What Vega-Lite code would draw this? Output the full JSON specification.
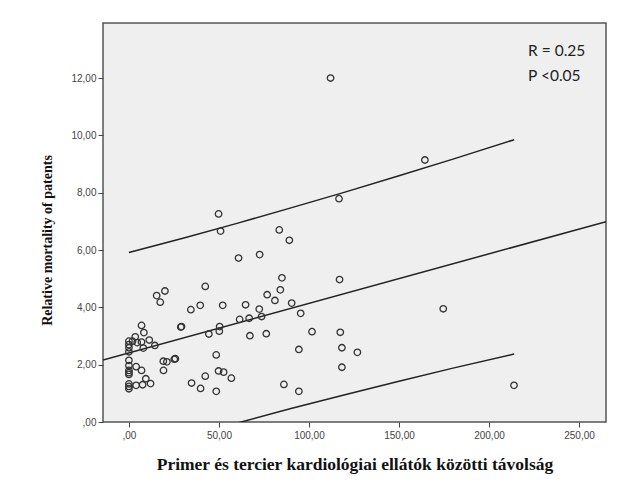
{
  "$schema": "https://vega.github.io/schema/vega-lite/v6.json",
  "width": 503,
  "height": 399,
  "autosize": {"type": "none"},
  "padding": {"left": 103, "top": 23, "right": 34, "bottom": 71},
  "background": "white",
  "config": {
    "view": {"fill": "#efefef", "stroke": "#555555", "strokeWidth": 1.5},
    "axis": {
      "labelFont": "Liberation Sans",
      "labelFontSize": 10,
      "labelColor": "#444444",
      "tickColor": "#444444",
      "tickSize": 5,
      "tickWidth": 1,
      "domain": false,
      "grid": false,
      "titleFont": "Liberation Serif",
      "titleFontWeight": "bold",
      "titleColor": "#111111"
    }
  },
  "datasets": {
    "pts": [
      {"d": 0, "m": 2.82}, {"d": 0, "m": 2.70}, {"d": 0, "m": 2.59}, {"d": 0, "m": 2.45}, {"d": 0, "m": 2.15}, {"d": 0, "m": 1.97},
      {"d": 0, "m": 1.80}, {"d": 0, "m": 1.72}, {"d": 0, "m": 1.66}, {"d": 0, "m": 1.33}, {"d": 0, "m": 1.24}, {"d": 0, "m": 1.16},
      {"d": 2, "m": 2.82}, {"d": 3.5, "m": 2.97}, {"d": 4.6, "m": 2.77}, {"d": 7, "m": 2.79}, {"d": 7, "m": 3.37}, {"d": 8.3, "m": 3.12},
      {"d": 8, "m": 2.58}, {"d": 11.3, "m": 2.86}, {"d": 14.4, "m": 2.67},
      {"d": 4, "m": 1.93}, {"d": 7, "m": 1.80}, {"d": 9.4, "m": 1.51}, {"d": 12, "m": 1.34}, {"d": 4, "m": 1.28}, {"d": 7.6, "m": 1.30},
      {"d": 15.4, "m": 4.41}, {"d": 17.4, "m": 4.18}, {"d": 20, "m": 4.57},
      {"d": 19.1, "m": 2.12}, {"d": 21.1, "m": 2.10}, {"d": 25.2, "m": 2.19}, {"d": 25.8, "m": 2.21}, {"d": 19.2, "m": 1.80},
      {"d": 28.8, "m": 3.31}, {"d": 29.2, "m": 3.33},
      {"d": 34.4, "m": 3.92}, {"d": 39.6, "m": 4.07}, {"d": 42.4, "m": 4.73}, {"d": 34.8, "m": 1.36}, {"d": 39.8, "m": 1.17}, {"d": 42.4, "m": 1.60},
      {"d": 49.8, "m": 7.26}, {"d": 50.9, "m": 6.66}, {"d": 83.5, "m": 6.70}, {"d": 89.1, "m": 6.34}, {"d": 60.9, "m": 5.72}, {"d": 72.6, "m": 5.84},
      {"d": 85, "m": 5.03}, {"d": 84.1, "m": 4.61}, {"d": 76.8, "m": 4.44}, {"d": 81.1, "m": 4.24}, {"d": 90.4, "m": 4.15}, {"d": 52.1, "m": 4.07},
      {"d": 64.8, "m": 4.09}, {"d": 72.4, "m": 3.94}, {"d": 73.7, "m": 3.68}, {"d": 66.8, "m": 3.62}, {"d": 61.5, "m": 3.58}, {"d": 50.4, "m": 3.33},
      {"d": 50.2, "m": 3.17}, {"d": 44.4, "m": 3.07}, {"d": 67.2, "m": 3.01}, {"d": 76.3, "m": 3.08}, {"d": 95.4, "m": 3.79}, {"d": 94.4, "m": 2.53},
      {"d": 48.5, "m": 2.34}, {"d": 49.8, "m": 1.78}, {"d": 52.6, "m": 1.74}, {"d": 56.9, "m": 1.53}, {"d": 48.5, "m": 1.07}, {"d": 86.1, "m": 1.31},
      {"d": 94.4, "m": 1.07},
      {"d": 112, "m": 12.0}, {"d": 116.7, "m": 7.79}, {"d": 117, "m": 4.97}, {"d": 101.7, "m": 3.15}, {"d": 117.4, "m": 3.13}, {"d": 118.3, "m": 2.59},
      {"d": 126.9, "m": 2.43}, {"d": 118.3, "m": 1.91}, {"d": 164.4, "m": 9.14}, {"d": 174.6, "m": 3.95}, {"d": 213.9, "m": 1.28}
    ],
    "lines": [
      {"x": -14.4, "y": 2.16, "s": "fit"}, {"x": 265, "y": 6.99, "s": "fit"},
      {"x": 0, "y": 5.91, "s": "upper"}, {"x": 30, "y": 6.41, "s": "upper"}, {"x": 60, "y": 6.93, "s": "upper"}, {"x": 90, "y": 7.47, "s": "upper"},
      {"x": 120, "y": 8.02, "s": "upper"}, {"x": 150, "y": 8.59, "s": "upper"}, {"x": 180, "y": 9.17, "s": "upper"}, {"x": 214, "y": 9.85, "s": "upper"},
      {"x": 0, "y": -1.09, "s": "lower"}, {"x": 30, "y": -0.55, "s": "lower"}, {"x": 60, "y": -0.04, "s": "lower"}, {"x": 90, "y": 0.47, "s": "lower"},
      {"x": 120, "y": 0.95, "s": "lower"}, {"x": 150, "y": 1.42, "s": "lower"}, {"x": 180, "y": 1.88, "s": "lower"}, {"x": 214, "y": 2.37, "s": "lower"}
    ],
    "notes": [
      {"x": 221.7, "y": 12.95, "label": "R = 0.25"},
      {"x": 221.7, "y": 12.08, "label": "P <0.05"}
    ]
  },
  "layer": [
    {
      "data": {"name": "lines"},
      "mark": {"type": "line", "color": "#222222", "strokeWidth": 1.5, "clip": true},
      "encoding": {
        "x": {"field": "x", "type": "quantitative", "scale": {"domain": [-14.4, 265], "nice": false, "zero": false},
          "axis": {"values": [0, 50, 100, 150, 200, 250], "labelExpr": "datum.value == 0 ? ',00' : replace(format(datum.value, '.2f'), '.', ',')",
            "title": "Primer és tercier kardiológiai ellátók közötti távolság", "titleFontSize": 17.5, "titleY": 42, "titleBaseline": "middle", "labelPadding": 3}},
        "y": {"field": "y", "type": "quantitative", "scale": {"domain": [0, 13.92], "nice": false, "zero": false},
          "axis": {"values": [0, 2, 4, 6, 8, 10, 12], "labelExpr": "datum.value == 0 ? ',00' : replace(format(datum.value, '.2f'), '.', ',')",
            "title": "Relative mortality of patents", "titleFontSize": 14, "titleX": -56, "titleY": 217, "titleAngle": -90, "titleAlign": "center", "titleBaseline": "middle", "labelPadding": 2}},
        "detail": {"field": "s", "type": "nominal"}
      }
    },
    {
      "data": {"name": "pts"},
      "mark": {"type": "point", "shape": "circle", "filled": false, "size": 42, "strokeWidth": 1.3, "color": "#333333", "opacity": 1},
      "encoding": {
        "x": {"field": "d", "type": "quantitative"},
        "y": {"field": "m", "type": "quantitative"}
      }
    },
    {
      "data": {"name": "notes"},
      "mark": {"type": "text", "font": "Lato", "fontSize": 15.5, "align": "left", "baseline": "middle", "color": "#222222"},
      "encoding": {
        "x": {"field": "x", "type": "quantitative"},
        "y": {"field": "y", "type": "quantitative"},
        "text": {"field": "label", "type": "nominal"}
      }
    }
  ]
}
